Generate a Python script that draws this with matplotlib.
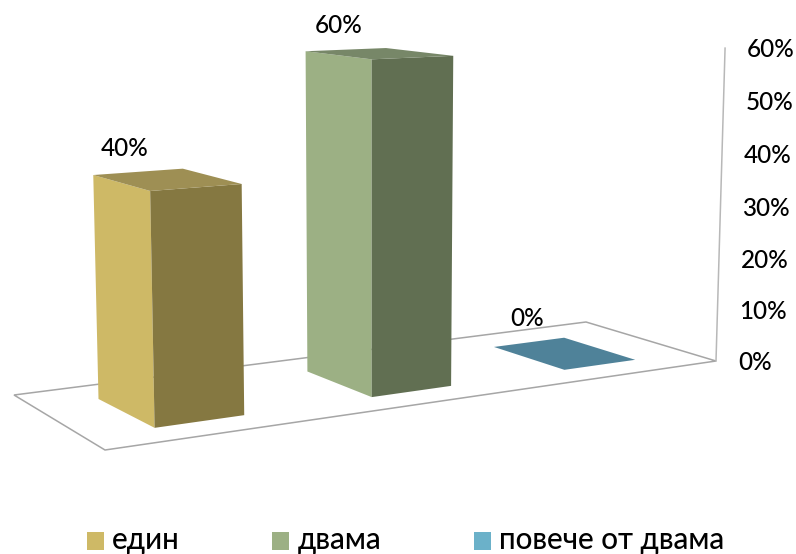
import numpy as np
import matplotlib
matplotlib.use("Agg")
import matplotlib.pyplot as plt
from matplotlib.patches import Polygon, Patch

categories = ['един', 'двама', 'повече от двама']
values = [40, 60, 0]
value_labels = ['40%', '60%', '0%']
z_ticks = [0, 10, 20, 30, 40, 50, 60]
tick_labels = ['0%', '10%', '20%', '30%', '40%', '50%', '60%']

legend_colors = ['#CEB966', '#9CB084', '#6BB1C9']
side_colors = ['#CEB966', '#9CB084', '#6BB1C9']
front_colors = ['#857841', '#616F52', '#4F8299']
top_colors = ['#9E8F54', '#778768', '#4F8299']

plt.rcParams['font.family'] = ['Lato', 'Noto Sans', 'DejaVu Sans']
plt.rcParams['font.weight'] = 'medium'

# the picture's 3D camera: floor is x 0..3 (one unit per category), y 0..1 (depth)
floor_px = np.array([[105, 450], [716, 361], [586, 322], [14, 395]], float)
floor_xy = np.array([[0, 0], [3, 0], [3, 1], [0, 1]], float)

# known points for the height direction: floor x, floor y, height, pixel
height_refs = [(3.0, 0.0, 60, (725, 45)), (0.279, 0.738, 40, (94, 176)),
               (0.304, 0.216, 40, (150, 190)), (0.688, 0.193, 40, (242, 185)),
               (1.274, 0.75, 60, (305, 50)), (1.295, 0.208, 60, (370, 62)),
               (1.709, 0.236, 60, (452, 57))]


def fit_floor(src, dst):
    A = []
    for (x, y), (u, v) in zip(src, dst):
        A.append([x, y, 1, 0, 0, 0, -u * x, -u * y, -u])
        A.append([0, 0, 0, x, y, 1, -v * x, -v * y, -v])
    return np.linalg.svd(np.array(A))[2][-1].reshape(3, 3)


def fit_height(H, refs):
    A = []
    b = []
    for x, y, z, (u, v) in refs:
        h = H @ np.array([x, y, 1.0])
        A.append([z, 0, -u * z])
        b.append(u * h[2] - h[0])
        A.append([0, z, -v * z])
        b.append(v * h[2] - h[1])
    return np.linalg.lstsq(np.array(A), np.array(b), rcond=None)[0]


H = fit_floor(floor_xy, floor_px)
C = fit_height(H, height_refs)


def project(x, y, z):
    p = H @ np.array([x, y, 1.0]) + z * C
    return p[0] / p[2], p[1] / p[2]


fig = plt.figure(figsize=(7.96, 5.54), dpi=100)
ax = fig.add_axes([0, 0, 1, 1])
ax.set_xlim(0, 796)
ax.set_ylim(554, 0)
ax.axis('off')

# floor and wall lines
floor = [project(*p, 0) for p in floor_xy]
ax.add_patch(Polygon(floor, closed=True, fill=False, edgecolor='#a6a6a6', linewidth=1.1))
wall = [project(3, 0, 0), project(3, 0, z_ticks[-1])]
ax.plot(*zip(*wall), color='#b8b8b8', linewidth=1.1)

y0, y1 = 0.205, 0.755
label_shift = [(-43, -31), (-41, -28), (-38, -35)]
for i, val in enumerate(values):
    # the reference bars are slightly skewed, back edge sits a bit left of the front one
    xf0, xf1 = i + 0.297, i + 0.695
    xb0, xb1 = i + 0.284, i + 0.69
    side = [project(xb0, y1, 0), project(xf0, y0, 0), project(xf0, y0, val), project(xb0, y1, val)]
    front = [project(xf0, y0, 0), project(xf1, y0, 0), project(xf1, y0, val), project(xf0, y0, val)]
    top = [project(xf0, y0, val), project(xf1, y0, val), project(xb1, y1, val), project(xb0, y1, val)]
    ax.add_patch(Polygon(side, closed=True, facecolor=side_colors[i], edgecolor='none'))
    ax.add_patch(Polygon(front, closed=True, facecolor=front_colors[i], edgecolor='none'))
    ax.add_patch(Polygon(top, closed=True, facecolor=top_colors[i], edgecolor='none'))
    cx, cy = project((xf0 + xf1) / 2, (y0 + y1) / 2, val)
    ax.text(cx + label_shift[i][0], cy + label_shift[i][1], value_labels[i], fontsize=17.5,
            color='black', ha='center', va='center')

for z, lab in zip(z_ticks, tick_labels):
    px, py = project(3, 0, z)
    ax.text(px + 22, py + 1.5, lab, fontsize=17.5, color='black', ha='left', va='center')

handles = [Patch(facecolor=c, edgecolor='none') for c in legend_colors]
leg = ax.legend(handles, categories, loc='lower left', bbox_to_anchor=(87 / 796, 0.0), borderaxespad=0, borderpad=0,
                ncols=3, frameon=False, fontsize=21.3, handlelength=0.57, handleheight=0.57, handletextpad=0.28,
                columnspacing=3.13)
# squares sit a little lower than the default
for h in leg.legend_handles:
    h.set_y(h.get_y() - 1.5)

fig.savefig('out.png', dpi=100)
